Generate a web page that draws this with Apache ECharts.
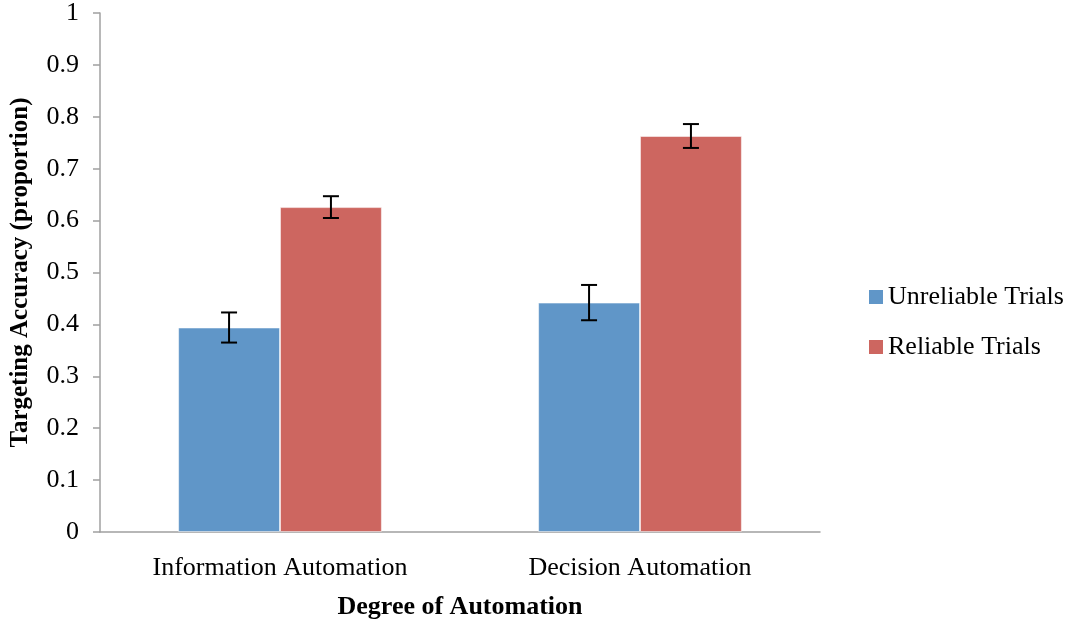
<!DOCTYPE html>
<html>
<head>
<meta charset="utf-8">
<script src="https://cdn.jsdelivr.net/npm/echarts@6/dist/echarts.min.js"></script>
<style>
    html, body { margin: 0; padding: 0; background: #fff; }
    #chart { width: 1073px; height: 625px; }
</style>
</head>
<body>
<div id="chart"></div>
<script>
// 数据
const categories = ["Information Automation", "Decision Automation"];
const seriesNames = ["Unreliable Trials", "Reliable Trials"];
const unreliable = [0.394, 0.442];
const reliable = [0.626, 0.763];
const unreliableErr = [0.029, 0.034];
const reliableErr = [0.021, 0.023];
const yTicks = ["0", "0.1", "0.2", "0.3", "0.4", "0.5", "0.6", "0.7", "0.8", "0.9", "1"];

const colors = ["#6096c8", "#cd6660"];
const font = "'Liberation Serif', 'Times New Roman', serif";
const barFrac = 0.283;

function errData(vals, errs) {
    return vals.map((v, i) => [i, v - errs[i], v + errs[i]]);
}

function errSeries(vals, errs, side) {
    return {
        type: "custom",
        silent: true,
        z: 10,
        data: errData(vals, errs),
        encode: { x: 0, y: [1, 2] },
        renderItem: (params, api) => {
            let idx = api.value(0);
            let lo = api.coord([idx, api.value(1)]);
            let hi = api.coord([idx, api.value(2)]);
            let band = api.size([1, 0])[0];
            let x = lo[0] + side * band * barFrac / 2;
            let cap = 8;
            let style = { stroke: "#000", lineWidth: 2 };
            return {
                type: "group",
                children: [
                    { type: "line", shape: { x1: x, y1: hi[1], x2: x, y2: lo[1] }, style: style },
                    { type: "line", shape: { x1: x - cap, y1: hi[1], x2: x + cap, y2: hi[1] }, style: style },
                    { type: "line", shape: { x1: x - cap, y1: lo[1], x2: x + cap, y2: lo[1] }, style: style },
                ],
            };
        },
    };
}

let chart = echarts.init(document.getElementById("chart"));
let option = {
    animation: false,
    grid: { left: 100, right: 253, top: 12, bottom: 93 },
    legend: {
        data: seriesNames,
        orient: "vertical",
        left: 869,
        top: 284,
        padding: 0,
        itemWidth: 14,
        itemHeight: 14,
        itemGap: 24,
        icon: "rect",
        itemStyle: { borderWidth: 0 },
        textStyle: { fontFamily: font, fontSize: 26, lineHeight: 26, color: "#000" },
    },
    xAxis: {
        type: "category",
        data: categories,
        name: "Degree of Automation",
        nameLocation: "middle",
        nameGap: 62,
        nameTextStyle: { fontFamily: font, fontSize: 26, fontWeight: "bold", color: "#000" },
        axisLine: { lineStyle: { color: "#a0a0a0", width: 1.5 } },
        axisTick: { show: false },
        axisLabel: { fontFamily: font, fontSize: 26, color: "#000", margin: 23 },
    },
    yAxis: {
        type: "value",
        min: 0,
        max: 1,
        interval: 0.1,
        name: "Targeting Accuracy (proportion)",
        nameLocation: "middle",
        nameGap: 67,
        nameRotate: 90,
        nameTextStyle: { fontFamily: font, fontSize: 25, fontWeight: "bold", color: "#000" },
        splitLine: { show: false },
        axisLine: { show: true, lineStyle: { color: "#a0a0a0", width: 1.5 } },
        axisTick: { show: true, length: 7, lineStyle: { color: "#a0a0a0", width: 1.5 } },
        axisLabel: {
            fontFamily: font,
            fontSize: 26,
            color: "#000",
            margin: 21,
            formatter: (v) => yTicks[Math.round(v * 10)],
        },
    },
    series: [
        {
            name: seriesNames[0],
            type: "bar",
            data: unreliable,
            barWidth: barFrac * 100 + "%",
            barGap: 0,
            itemStyle: { color: colors[0], borderColor: "rgba(255,255,255,0.5)", borderWidth: 1 },
        },
        {
            name: seriesNames[1],
            type: "bar",
            data: reliable,
            barWidth: barFrac * 100 + "%",
            barGap: 0,
            itemStyle: { color: colors[1], borderColor: "rgba(255,255,255,0.5)", borderWidth: 1 },
        },
        errSeries(unreliable, unreliableErr, -1),
        errSeries(reliable, reliableErr, 1),
    ],
};
chart.setOption(option);
</script>
</body>
</html>
